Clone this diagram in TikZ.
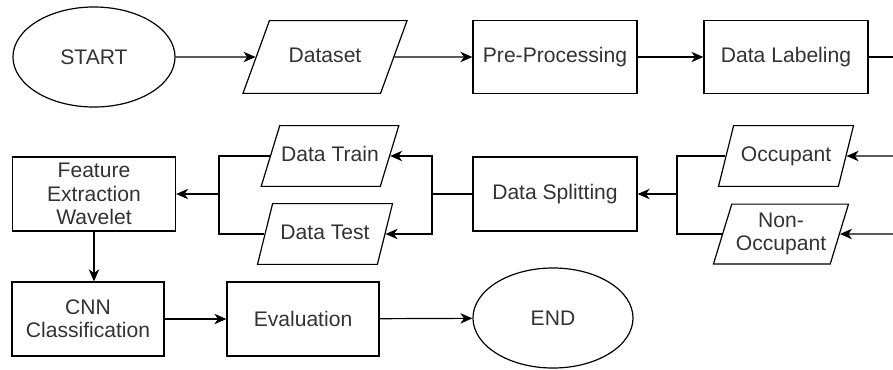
\documentclass[tikz,border=0pt]{standalone}
\usepackage{fontspec}
\setmainfont{Liberation Sans}
\usetikzlibrary{arrows.meta,shapes.geometric,positioning}
\tikzset{
    terminal/.style={
    ellipse,draw=black,inner sep=0pt,minimum width=4.05cm,minimum height=2.5cm
    },
    io/.style={
    trapezium,trapezium left angle=76,trapezium right angle=104,trapezium stretches body=true,
    draw=black,inner xsep=1pt,inner ysep=14.35pt,text height=11pt,text depth=3.5pt,
    minimum width=3.375cm,align=center
    },
    process/.style={
    rectangle,draw=black,inner sep=0pt,minimum width=4.1cm,minimum height=1.85cm,align=center
    },
    flow/.style={
    -{Stealth[length=3mm,width=2.6mm,inset=0.9mm]}
    },
}

\begin{document}
\begin{tikzpicture}[x=0.025cm, y=-0.025cm, line width=0.85pt,
    font=\fontsize{15}{16.5}\selectfont, text=black!80]
   \useasboundingbox (0,0) rectangle (893,369);

   % first row
   \node[terminal] (St) at (94,57) {START};
   \node[io,trapezium left angle=70,trapezium right angle=110,
         minimum width=4.1cm,inner ysep=18.6pt] (Ds) at (325,57) {Dataset};
   \node[process,minimum height=1.825cm] (PP) at (555,57) {Pre-Processing};
   \node[process,minimum height=1.825cm] (DL) at (786,57) {Data Labeling};
   \coordinate (DLo) at (893,57);

   % second row
   \coordinate (Oci) at (893,156);
   \coordinate (NOi) at (893,234);
   \node[io] (Oc) at (786,156) {Occupant};
   \node[io,trapezium left angle=73,trapezium right angle=107,
         text height={},text depth={},inner ysep=6.3pt] (NO) at (781,234) {Non-\\Occupant};
   \coordinate (Jr) at (677,194);
   \node[process] (DS) at (555,194) {Data Splitting};
   \coordinate (Jm) at (432,194);
   \node[io,trapezium left angle=73,trapezium right angle=107] (Tr) at (330,156) {Data Train};
   \node[io] (Te) at (325,234) {Data Test};
   \coordinate (Jl) at (219,194);
   \node[process,minimum width=4.075cm] (FE) at (94,194) {Feature\\Extraction\\Wavelet};

   % third row
   \node[process,minimum width=3.8cm] (CNN) at (88,319) {CNN\\Classification};
   \node[process,minimum width=3.8cm] (Ev) at (303,319) {Evaluation};
   \node[terminal,minimum width=4cm] (En) at (553,318) {END};

  \path[flow]
    (St) edge node {} (Ds)
    (Ds) edge node {} (PP)
    (PP) edge node {} (DL)
    (Oci) edge node {} (Oc.east)
    (NOi) edge node {} (NO.east)
    (Jr) edge node {} (DS.east)
    (Jl) edge node {} (FE.east)
    (CNN) edge node {} (Ev)
    (Ev) edge node {} (En);
  \draw (DL) -- (DLo);
  \draw (Oc.west) -| (Jr) |- (NO.west);
  \draw (DS.west) -- (Jm);
  \draw[flow] (Jm) |- (Tr.east);
  \draw[flow] (Jm) |- (Te.east);
  \draw (Tr.west) -| (Jl) |- (Te.west);
  \draw[flow] (FE.south) -- (FE.south |- CNN.north);
\end{tikzpicture}
\end{document}
